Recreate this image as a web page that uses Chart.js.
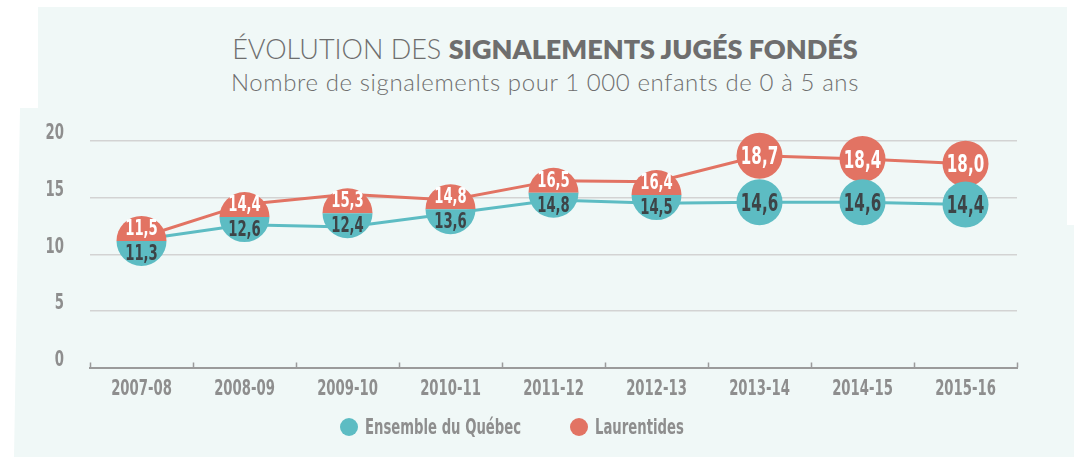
<!DOCTYPE html>
<html lang="fr">
<head>
<meta charset="utf-8">
<script src="https://cdn.jsdelivr.net/npm/chart.js@4.4.1/dist/chart.umd.min.js"></script>
<style>
  html, body { margin: 0; padding: 0; background: #fff; }
  #wrap { position: relative; width: 1074px; height: 457px; overflow: hidden; }
  #panel {
    position: absolute; left: 0; top: 0; width: 1074px; height: 457px; background: #f0f8f7;
    clip-path: polygon(38px 7px, 1067px 7px, 1067px 225px, 1074px 225px, 1074px 457px, 14px 457px, 20px 108px, 38px 108px);
  }
  .title { position: absolute; left: 0; width: 1090px; text-align: center; color: #6e6e6e; font-family: Lato, 'Open Sans', sans-serif; white-space: nowrap; line-height: 1.2; }
  #t1 { top: 33px; font-size: 27px; font-weight: 300; }
  #t1 b { font-weight: 800; }
  #t2 { top: 68px; font-size: 24px; font-weight: 300; letter-spacing: 0.6px; }
  canvas { position: absolute; left: 0; top: 0; }
  .legend-item { position: absolute; top: 417px; height: 20px; white-space: nowrap; }
  .legend-item .dot { position: absolute; left: 0; top: 1px; width: 18px; height: 18px; border-radius: 50%; }
  .legend-item .txt {
    position: absolute; left: 25px; top: -5px; font: bold 21px 'DejaVu Sans Condensed', 'DejaVu Sans', sans-serif;
    color: #8e8e8e; transform: scaleX(0.7); transform-origin: 0 0; line-height: 30px;
  }
</style>
</head>
<body>
<div id="wrap">
  <div id="panel"></div>
  <div class="title" id="t1">ÉVOLUTION DES <b>SIGNALEMENTS JUGÉS FONDÉS</b></div>
  <div class="title" id="t2">Nombre de signalements pour 1 000 enfants de 0 à 5 ans</div>
  <canvas id="myChart" width="1074" height="457"></canvas>
  <div id="legend"></div>
</div>
<script>
const years = ["2007-08", "2008-09", "2009-10", "2010-11", "2011-12", "2012-13", "2013-14", "2014-15", "2015-16"];
const quebec = [11.3, 12.6, 12.4, 13.6, 14.8, 14.5, 14.6, 14.6, 14.4];
const laurentides = [11.5, 14.4, 15.3, 14.8, 16.5, 16.4, 18.7, 18.4, 18.0];
const seriesNames = ["Ensemble du Québec", "Laurentides"];

const teal = "#5dbcc3";
const red = "#e27363";
const darkText = "#3d4447";
const grey = "#8e8e8e";
const narrow = "'DejaVu Sans Condensed', 'DejaVu Sans', sans-serif";
const squeeze = 0.7; // no narrow font installed, so squeeze the condensed one

function fmt(v) {
  return v.toFixed(1).replace('.', ',');
}

// make every canvas text narrower (and measured narrower so layout follows)
const condensed = {
  id: 'condensed',
  beforeInit(chart) {
    const ctx = chart.ctx;
    const measure = ctx.measureText.bind(ctx);
    const fill = ctx.fillText.bind(ctx);
    ctx.measureText = t => ({ width: measure(t).width * squeeze });
    ctx.fillText = (t, x, y) => fill(t, x, y, measure(t).width * squeeze);
  }
};

// circles with values; when both points are close they share one split circle
const bubbles = {
  id: 'bubbles',
  afterDatasetsDraw(chart) {
    const ctx = chart.ctx;
    const q = chart.getDatasetMeta(0).data;
    const l = chart.getDatasetMeta(1).data;
    ctx.save();
    ctx.textAlign = 'center';
    ctx.textBaseline = 'alphabetic';
    q.forEach((pq, i) => {
      const pl = l[i];
      if (Math.abs(pq.y - pl.y) < 36) {
        const cx = pq.x, cy = (pq.y + pl.y) / 2 + 2.5, r = 25;
        ctx.fillStyle = red;
        ctx.beginPath(); ctx.arc(cx, cy, r, Math.PI, 2 * Math.PI); ctx.fill();
        ctx.fillStyle = teal;
        ctx.beginPath(); ctx.arc(cx, cy, r, 0, Math.PI); ctx.fill();
        ctx.font = 'bold 21px ' + narrow;
        ctx.fillStyle = '#fff';
        ctx.fillText(fmt(laurentides[i]), cx, cy - 6);
        ctx.fillStyle = darkText;
        ctx.fillText(fmt(quebec[i]), cx, cy + 19);
      } else {
        const r = 23;
        ctx.font = 'bold 24px ' + narrow;
        ctx.fillStyle = red;
        ctx.beginPath(); ctx.arc(pl.x, pl.y, r, 0, 2 * Math.PI); ctx.fill();
        ctx.fillStyle = '#fff';
        ctx.fillText(fmt(laurentides[i]), pl.x, pl.y + 8.5);
        ctx.fillStyle = teal;
        ctx.beginPath(); ctx.arc(pq.x, pq.y, r, 0, 2 * Math.PI); ctx.fill();
        ctx.fillStyle = darkText;
        ctx.fillText(fmt(quebec[i]), pq.x, pq.y + 8.5);
      }
    });
    ctx.restore();
  }
};

// small tick marks pointing up from the zero line, between categories
const upTicks = {
  id: 'upTicks',
  afterDraw(chart) {
    const xs = chart.scales.x;
    const ctx = chart.ctx;
    const y0 = chart.chartArea.bottom;
    ctx.save();
    ctx.strokeStyle = '#9b9b9b';
    ctx.lineWidth = 1.5;
    for (let i = 0; i <= years.length; i++) {
      const x = Math.round(xs.getPixelForValue(i - 0.5)) + 0.5;
      ctx.beginPath();
      ctx.moveTo(x, y0);
      ctx.lineTo(x, y0 - 5);
      ctx.stroke();
    }
    ctx.restore();
  }
};

const chart = new Chart("myChart", {
  type: "line",
  data: {
    labels: years,
    datasets: [{
      label: seriesNames[0],
      data: quebec,
      borderColor: teal,
      backgroundColor: teal,
      borderWidth: 3,
      pointRadius: 0,
      fill: false
    }, {
      label: seriesNames[1],
      data: laurentides,
      borderColor: red,
      backgroundColor: red,
      borderWidth: 3,
      pointRadius: 0,
      fill: false
    }]
  },
  options: {
    responsive: false,
    animation: false,
    layout: { padding: { top: 141, left: 12, right: 57, bottom: 0 } },
    plugins: {
      tooltip: { enabled: false },
      legend: { display: false }
    },
    scales: {
      x: {
        offset: true,
        grid: { display: true, drawOnChartArea: false, drawTicks: false },
        border: { color: '#9b9b9b', width: 2 },
        ticks: { padding: 9, color: grey, font: { family: narrow, size: 21, weight: 'bold' } },
        afterFit: s => { s.height = 89.5; }
      },
      y: {
        min: 0,
        max: 20,
        ticks: { stepSize: 5, padding: 26, labelOffset: -7, color: grey, font: { family: narrow, size: 21, weight: 'bold' } },
        grid: { color: c => c.tick.value === 0 ? 'rgba(0,0,0,0)' : '#d3d3d3', lineWidth: 1.5, drawTicks: false },
        border: { display: false },
        afterFit: s => { s.width = 78; }
      }
    }
  },
  plugins: [condensed, bubbles, upTicks]
});

// html legend built from the chart's datasets
const legendLeft = [340, 570];
const legendBox = document.getElementById('legend');
chart.data.datasets.forEach((ds, i) => {
  const item = document.createElement('div');
  item.className = 'legend-item';
  item.style.left = legendLeft[i] + 'px';
  const dot = document.createElement('span');
  dot.className = 'dot';
  dot.style.background = ds.backgroundColor;
  const txt = document.createElement('span');
  txt.className = 'txt';
  txt.textContent = ds.label;
  item.appendChild(dot);
  item.appendChild(txt);
  legendBox.appendChild(item);
});
</script>
</body>
</html>
